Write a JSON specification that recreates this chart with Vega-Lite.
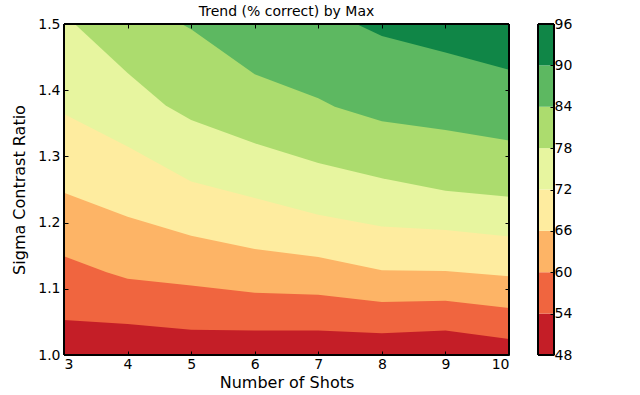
{
  "$schema": "https://vega.github.io/schema/vega-lite/v6.json",
  "padding": {"left": 11, "top": 5, "right": 0, "bottom": 0},
  "config": {
    "font": "DejaVu Sans",
    "view": {"stroke": null},
    "axis": {
      "domain": false,
      "grid": false,
      "tickSize": -4,
      "tickColor": "black",
      "tickWidth": 1,
      "labelFontSize": 14,
      "labelColor": "black",
      "titleFontSize": 16,
      "titleFontWeight": "normal",
      "titleColor": "black"
    }
  },
  "datasets": {
    "bounds": [
      {"level": "48", "x": 3, "y": 1.0},
      {"level": "48", "x": 10, "y": 1.0},
      {"level": "54", "x": 3, "y": 1.053},
      {"level": "54", "x": 4, "y": 1.047},
      {"level": "54", "x": 5, "y": 1.038},
      {"level": "54", "x": 6, "y": 1.037},
      {"level": "54", "x": 7, "y": 1.037},
      {"level": "54", "x": 8, "y": 1.033},
      {"level": "54", "x": 9, "y": 1.037},
      {"level": "54", "x": 10, "y": 1.024},
      {"level": "60", "x": 3, "y": 1.149},
      {"level": "60", "x": 3.67, "y": 1.125},
      {"level": "60", "x": 4, "y": 1.115},
      {"level": "60", "x": 5, "y": 1.105},
      {"level": "60", "x": 6, "y": 1.094},
      {"level": "60", "x": 7, "y": 1.091},
      {"level": "60", "x": 8, "y": 1.080},
      {"level": "60", "x": 9, "y": 1.082},
      {"level": "60", "x": 10, "y": 1.071},
      {"level": "66", "x": 3, "y": 1.245},
      {"level": "66", "x": 4, "y": 1.209},
      {"level": "66", "x": 5, "y": 1.180},
      {"level": "66", "x": 6, "y": 1.160},
      {"level": "66", "x": 7, "y": 1.148},
      {"level": "66", "x": 8, "y": 1.128},
      {"level": "66", "x": 9, "y": 1.127},
      {"level": "66", "x": 10, "y": 1.119},
      {"level": "72", "x": 3, "y": 1.364},
      {"level": "72", "x": 4, "y": 1.315},
      {"level": "72", "x": 5, "y": 1.262},
      {"level": "72", "x": 6, "y": 1.237},
      {"level": "72", "x": 7, "y": 1.212},
      {"level": "72", "x": 8, "y": 1.194},
      {"level": "72", "x": 9, "y": 1.189},
      {"level": "72", "x": 10, "y": 1.179},
      {"level": "78", "x": 3.17, "y": 1.5},
      {"level": "78", "x": 4, "y": 1.426},
      {"level": "78", "x": 4.6, "y": 1.377},
      {"level": "78", "x": 5, "y": 1.355},
      {"level": "78", "x": 6, "y": 1.320},
      {"level": "78", "x": 7, "y": 1.290},
      {"level": "78", "x": 8, "y": 1.267},
      {"level": "78", "x": 9, "y": 1.248},
      {"level": "78", "x": 10, "y": 1.239},
      {"level": "84", "x": 4.85, "y": 1.5},
      {"level": "84", "x": 5, "y": 1.492},
      {"level": "84", "x": 6, "y": 1.424},
      {"level": "84", "x": 7, "y": 1.388},
      {"level": "84", "x": 7.26, "y": 1.375},
      {"level": "84", "x": 8, "y": 1.353},
      {"level": "84", "x": 9, "y": 1.340},
      {"level": "84", "x": 10, "y": 1.324},
      {"level": "90", "x": 7.6, "y": 1.5},
      {"level": "90", "x": 8, "y": 1.482},
      {"level": "90", "x": 9, "y": 1.457},
      {"level": "90", "x": 10, "y": 1.431}
    ],
    "bands": [
      {"level": "48", "lo": 48, "hi": 54},
      {"level": "54", "lo": 54, "hi": 60},
      {"level": "60", "lo": 60, "hi": 66},
      {"level": "66", "lo": 66, "hi": 72},
      {"level": "72", "lo": 72, "hi": 78},
      {"level": "78", "lo": 78, "hi": 84},
      {"level": "84", "lo": 84, "hi": 90},
      {"level": "90", "lo": 90, "hi": 96}
    ]
  },
  "spacing": 25,
  "hconcat": [
    {
      "width": 445,
      "height": 331,
      "title": {"text": "Trend (% correct) by Max", "fontSize": 14, "fontWeight": "normal", "color": "black", "offset": -2},
      "data": {"name": "bounds"},
      "layer": [
        {
          "mark": {"type": "area", "clip": true, "interpolate": "linear"},
          "encoding": {
            "x": {"field": "x", "type": "quantitative", "scale": {"domain": [3, 10], "nice": false, "zero": false},
              "axis": {"orient": "bottom", "zindex": 1, "values": [3, 4, 5, 6, 7, 8, 9, 10], "format": "d", "title": "Number of Shots", "labelPadding": 6, "titlePadding": 3}},
            "y": {"field": "y", "type": "quantitative", "stack": null, "scale": {"domain": [1.0, 1.5], "nice": false, "zero": false},
              "axis": {"orient": "left", "zindex": 1, "values": [1.0, 1.1, 1.2, 1.3, 1.4, 1.5], "format": ".1f", "title": "Sigma Contrast Ratio", "labelPadding": 8, "titlePadding": 10}},
            "y2": {"datum": 1.5},
            "color": {"field": "level", "type": "nominal",
              "scale": {"domain": ["48", "54", "60", "66", "72", "78", "84", "90"],
                "range": ["#c41e27", "#f0653f", "#fdb466", "#feec9f", "#e7f59f", "#acdc6e", "#5db861", "#108647"]},
              "legend": null}
          }
        },
        {
          "mark": {"type": "point", "opacity": 0},
          "encoding": {
            "x": {"field": "x", "type": "quantitative", "axis": {"orient": "top", "zindex": 1, "values": [3, 4, 5, 6, 7, 8, 9, 10], "labels": false, "title": null}},
            "y": {"field": "y", "type": "quantitative", "axis": {"orient": "right", "zindex": 1, "values": [1.0, 1.1, 1.2, 1.3, 1.4, 1.5], "labels": false, "title": null}}
          }
        },
        {
          "mark": {"type": "rect", "filled": false, "stroke": "black", "strokeWidth": 1},
          "encoding": {
            "x": {"datum": 3, "axis": null},
            "x2": {"datum": 10},
            "y": {"datum": 1.0, "axis": null},
            "y2": {"datum": 1.5}
          }
        }
      ],
      "resolve": {"axis": {"x": "independent", "y": "independent"}}
    },
    {
      "width": 16,
      "height": 331,
      "data": {"name": "bands"},
      "layer": [
        {
          "mark": "rect",
          "encoding": {
            "y": {"field": "lo", "type": "quantitative", "scale": {"domain": [48, 96], "nice": false, "zero": false},
              "axis": {"orient": "right", "zindex": 1, "values": [48, 54, 60, 66, 72, 78, 84, 90, 96], "title": null, "labelPadding": 4}},
            "y2": {"field": "hi"},
            "color": {"field": "level", "type": "nominal",
              "scale": {"domain": ["48", "54", "60", "66", "72", "78", "84", "90"],
                "range": ["#c41e27", "#f0653f", "#fdb466", "#feec9f", "#e7f59f", "#acdc6e", "#5db861", "#108647"]},
              "legend": null}
          }
        },
        {
          "mark": {"type": "rect", "filled": false, "stroke": "black", "strokeWidth": 1},
          "encoding": {
            "y": {"datum": 48},
            "y2": {"datum": 96}
          }
        }
      ]
    }
  ]
}
